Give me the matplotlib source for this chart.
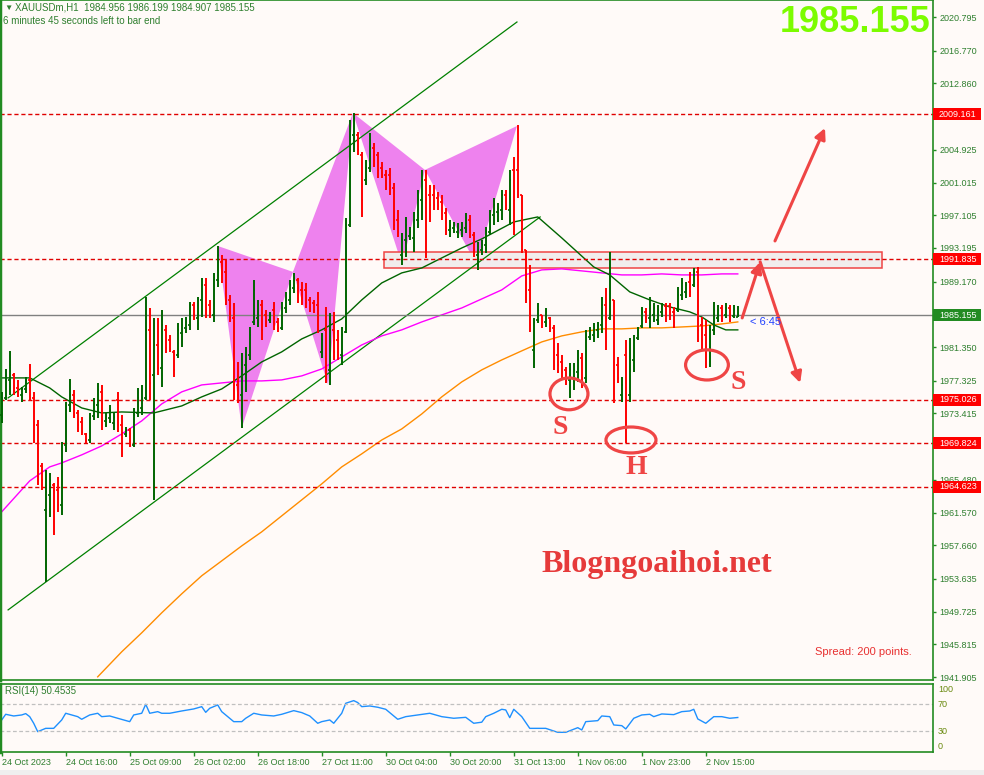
import numpy as np
import matplotlib.pyplot as plt
from matplotlib.patches import Rectangle, Ellipse, Polygon
from matplotlib.transforms import blended_transform_factory

plt.rcParams['font.family'] = ['Liberation Sans', 'DejaVu Sans']

# XAUUSDm H1 bars (oldest first)
opens = [
    1973.23, 1975.27, 1977.42, 1978.02, 1976.46, 1975.63, 1976.34, 1977.42, 1975.27, 1972.04,
    1967.14, 1961.89, 1963.68, 1964.87, 1964.28, 1962.48, 1969.65, 1974.43, 1975.63, 1973.47,
    1972.40, 1970.96, 1970.24, 1973.11, 1974.43, 1975.99, 1972.52, 1972.87, 1972.28, 1975.03,
    1972.04, 1970.96, 1971.44, 1969.65, 1973.47, 1974.07, 1975.27, 1983.40, 1978.02, 1981.60,
    1978.85, 1983.40, 1982.20, 1980.77, 1980.41, 1983.04, 1983.64, 1983.99, 1986.38, 1984.83,
    1986.98, 1988.77, 1986.38, 1985.19, 1989.37, 1991.52, 1990.33, 1986.98, 1984.83, 1976.82,
    1975.63, 1979.21, 1980.41, 1984.35, 1984.83, 1986.38, 1985.19, 1984.59, 1985.79, 1984.35,
    1983.64, 1986.02, 1986.98, 1988.42, 1989.37, 1988.18, 1988.18, 1986.98, 1986.62, 1986.38,
    1980.77, 1983.40, 1978.62, 1983.40, 1982.20, 1980.41, 1983.16, 1995.94, 2006.70, 2006.70,
    2004.31, 2001.32, 2002.75, 2005.14, 2004.31, 2002.75, 2001.92, 2001.92, 2000.36, 1996.54,
    1992.36, 1994.15, 1994.63, 1994.39, 1996.54, 1998.93, 2001.32, 1999.53, 1999.53, 1999.17,
    1998.69, 1997.37, 1995.35, 1995.58, 1995.11, 1995.35, 1995.58, 1996.54, 1994.75, 1992.36,
    1992.96, 1993.55, 1995.11, 1997.14, 1997.49, 1997.73, 1999.53, 1997.73, 2002.52, 2002.52,
    1999.53, 1992.96, 1988.18, 1981.01, 1984.59, 1985.19, 1984.35, 1984.83, 1983.64, 1980.41,
    1979.57, 1978.62, 1977.42, 1977.66, 1978.38, 1980.05, 1977.66, 1982.56, 1982.80, 1983.40,
    1983.99, 1986.38, 1984.83, 1986.98, 1979.21, 1975.63, 1980.41, 1975.63, 1979.81, 1982.44,
    1983.87, 1985.55, 1984.83, 1985.19, 1984.59, 1985.55, 1986.26, 1986.26, 1985.55, 1985.79,
    1987.58, 1987.94, 1989.13, 1988.77, 1990.33, 1983.99, 1982.80, 1981.01, 1983.40, 1984.83,
    1986.02, 1985.19, 1986.02, 1985.07, 1984.956,
]
highs = [
    1975.99, 1978.73, 1980.89, 1978.26, 1977.42, 1976.58, 1977.78, 1979.33, 1975.99, 1972.64,
    1967.50, 1966.67, 1966.31, 1965.11, 1965.83, 1970.01, 1974.79, 1977.54, 1976.22, 1973.83,
    1972.99, 1971.08, 1973.47, 1975.27, 1977.06, 1976.82, 1973.47, 1974.43, 1973.47, 1975.99,
    1973.23, 1971.80, 1971.68, 1974.07, 1976.46, 1976.82, 1987.34, 1986.02, 1984.83, 1984.83,
    1985.79, 1983.99, 1982.80, 1981.01, 1984.23, 1984.83, 1984.95, 1986.74, 1986.74, 1987.34,
    1989.61, 1989.61, 1986.98, 1990.21, 1993.43, 1992.36, 1991.76, 1987.58, 1986.62, 1979.57,
    1980.65, 1981.36, 1983.75, 1989.37, 1986.98, 1986.98, 1985.79, 1985.55, 1986.74, 1984.83,
    1986.74, 1987.94, 1989.37, 1990.21, 1989.61, 1989.13, 1989.01, 1987.34, 1986.98, 1987.94,
    1983.04, 1986.14, 1985.43, 1985.55, 1983.40, 1983.75, 1996.78, 2008.49, 2009.33, 2007.06,
    2004.67, 2003.71, 2006.94, 2005.74, 2004.67, 2003.47, 2002.52, 2002.75, 2000.96, 1997.73,
    1994.99, 1996.90, 1995.70, 1997.49, 2000.12, 2002.52, 2002.52, 2000.72, 2000.72, 1999.89,
    1999.53, 1997.97, 1996.54, 1996.30, 1996.18, 1996.30, 1997.37, 1997.14, 1995.11, 1993.91,
    1994.15, 1995.70, 1997.73, 1999.17, 1998.57, 2000.12, 2000.12, 2002.52, 2004.07, 2007.89,
    1999.53, 1992.96, 1991.16, 1984.83, 1986.62, 1985.19, 1986.02, 1984.95, 1983.99, 1981.84,
    1980.41, 1978.97, 1979.45, 1979.45, 1981.01, 1980.65, 1983.40, 1983.75, 1984.23, 1984.35,
    1987.34, 1988.42, 1992.72, 1986.98, 1980.17, 1977.78, 1982.20, 1982.44, 1982.80, 1983.75,
    1986.14, 1986.02, 1987.34, 1986.62, 1986.38, 1986.62, 1986.62, 1986.62, 1986.14, 1988.53,
    1989.61, 1989.13, 1990.33, 1990.80, 1990.92, 1984.95, 1984.59, 1983.99, 1986.74, 1986.38,
    1986.38, 1986.62, 1986.38, 1986.38, 1986.199,
]
lows = [
    1972.28, 1975.03, 1975.63, 1975.63, 1975.39, 1974.79, 1975.87, 1974.91, 1969.89, 1964.87,
    1964.28, 1953.28, 1961.05, 1958.90, 1961.65, 1961.29, 1968.81, 1973.59, 1972.87, 1971.20,
    1970.84, 1969.89, 1969.89, 1972.64, 1972.87, 1971.44, 1971.80, 1972.28, 1971.44, 1971.20,
    1968.22, 1970.60, 1969.41, 1969.41, 1972.99, 1973.23, 1975.03, 1975.03, 1963.08, 1978.02,
    1976.58, 1980.65, 1980.77, 1977.78, 1980.05, 1981.36, 1983.04, 1983.40, 1984.59, 1983.40,
    1984.95, 1984.83, 1984.83, 1984.35, 1988.53, 1989.01, 1986.38, 1984.35, 1975.03, 1974.67,
    1971.68, 1975.99, 1979.81, 1983.99, 1983.75, 1982.20, 1983.75, 1984.23, 1983.40, 1983.16,
    1983.40, 1985.43, 1986.38, 1987.82, 1986.62, 1986.38, 1986.02, 1985.55, 1985.43, 1983.04,
    1980.05, 1977.06, 1976.82, 1979.81, 1979.81, 1979.21, 1983.04, 1995.70, 2004.67, 2004.31,
    1996.90, 2000.72, 2002.28, 2002.87, 2001.56, 2001.56, 2000.12, 1999.53, 1995.35, 1994.51,
    1991.16, 1992.12, 1994.15, 1992.72, 1995.58, 1996.54, 1992.00, 1996.30, 1997.73, 1997.73,
    1996.54, 1994.75, 1994.51, 1994.99, 1994.39, 1994.51, 1994.99, 1994.39, 1992.12, 1990.57,
    1992.36, 1992.60, 1994.75, 1995.94, 1996.30, 1996.54, 1997.73, 1995.94, 1994.75, 1999.17,
    1992.60, 1986.62, 1983.16, 1978.85, 1984.23, 1983.64, 1983.75, 1983.16, 1978.62, 1978.26,
    1977.66, 1976.82, 1975.27, 1976.22, 1977.18, 1976.46, 1977.06, 1982.20, 1981.96, 1982.44,
    1983.04, 1981.01, 1984.59, 1974.67, 1977.06, 1974.79, 1969.89, 1974.79, 1978.38, 1982.20,
    1983.64, 1984.23, 1983.64, 1984.35, 1983.99, 1984.95, 1984.35, 1984.59, 1983.64, 1985.55,
    1986.98, 1987.22, 1987.34, 1988.53, 1981.96, 1981.01, 1978.85, 1978.97, 1982.80, 1984.35,
    1984.35, 1984.83, 1984.35, 1984.83, 1984.907,
]
closes = [
    1975.27, 1978.02, 1979.21, 1976.46, 1975.87, 1976.34, 1977.42, 1975.27, 1972.04, 1967.26,
    1965.47, 1964.04, 1965.47, 1961.65, 1962.48, 1969.65, 1973.83, 1975.63, 1973.23, 1972.04,
    1971.20, 1970.24, 1972.87, 1974.67, 1976.22, 1972.64, 1973.11, 1973.83, 1972.99, 1972.04,
    1971.08, 1971.44, 1969.65, 1973.23, 1975.27, 1975.27, 1983.40, 1977.06, 1981.60, 1978.85,
    1983.99, 1981.25, 1981.13, 1978.62, 1983.40, 1983.99, 1984.35, 1986.38, 1985.19, 1986.98,
    1988.77, 1985.79, 1985.43, 1989.61, 1992.36, 1990.33, 1986.98, 1984.83, 1976.82, 1975.63,
    1979.21, 1980.41, 1982.80, 1988.18, 1986.38, 1983.40, 1984.35, 1985.19, 1983.99, 1983.64,
    1986.02, 1987.22, 1988.77, 1989.61, 1987.58, 1987.22, 1986.62, 1986.02, 1985.79, 1983.40,
    1982.20, 1978.62, 1983.40, 1980.77, 1980.41, 1982.80, 1995.94, 2006.70, 2008.73, 2004.91,
    1998.93, 2002.75, 2006.10, 2003.71, 2002.52, 2001.92, 2000.36, 2000.12, 1995.94, 1995.11,
    1994.15, 1995.94, 1995.11, 1996.54, 1998.93, 2001.32, 1998.93, 1998.33, 1998.33, 1998.21,
    1997.14, 1995.58, 1995.82, 1995.94, 1995.58, 1995.82, 1996.78, 1994.75, 1992.96, 1992.96,
    1993.55, 1995.11, 1997.14, 1998.33, 1997.97, 1999.53, 1998.33, 2001.32, 1998.93, 1999.53,
    1992.96, 1988.18, 1983.99, 1984.35, 1985.79, 1984.35, 1985.55, 1983.64, 1980.05, 1979.21,
    1978.38, 1977.42, 1978.62, 1978.62, 1979.81, 1977.66, 1982.80, 1983.40, 1983.64, 1983.99,
    1986.38, 1984.59, 1986.98, 1977.42, 1977.66, 1976.82, 1975.03, 1979.81, 1982.20, 1983.40,
    1985.55, 1984.83, 1986.38, 1986.02, 1985.79, 1986.26, 1985.07, 1985.19, 1984.35, 1987.58,
    1989.01, 1988.77, 1987.94, 1990.33, 1983.40, 1982.20, 1981.01, 1983.40, 1985.79, 1985.79,
    1984.83, 1986.02, 1984.83, 1985.79, 1985.155,
]

# moving averages at some bars
ma_green_idx = [0, 7, 12, 15, 20, 25, 30, 38, 45, 50, 55, 60, 65, 70, 75, 80, 85, 90, 95, 100,
                105, 110, 115, 120, 128, 134, 140, 148, 152, 157, 162, 167, 172, 175, 178, 181, 184]
ma_green = [1977.66, 1977.66, 1976.46, 1975.39, 1974.07, 1973.47, 1973.59, 1973.47, 1974.31,
            1975.39, 1976.34, 1977.90, 1979.57, 1980.77, 1982.32, 1983.40, 1984.71, 1986.98,
            1989.01, 1990.21, 1990.80, 1992.00, 1993.19, 1994.27, 1996.30, 1996.90, 1994.39,
            1990.92, 1989.97, 1987.94, 1986.98, 1986.14, 1985.55, 1984.95, 1983.99, 1983.40,
            1983.40]
ma_pink_idx = [0, 7, 12, 15, 20, 25, 30, 35, 40, 45, 50, 55, 60, 65, 70, 75, 80, 85, 90, 95,
               100, 105, 110, 115, 120, 125, 130, 135, 140, 145, 150, 155, 160, 165, 170, 175,
               180, 184]
ma_pink = [1961.65, 1965.35, 1967.02, 1967.50, 1968.46, 1969.53, 1970.96, 1972.52, 1974.55,
           1975.99, 1976.82, 1977.06, 1977.30, 1977.30, 1977.42, 1977.90, 1978.73, 1980.17,
           1981.60, 1982.68, 1983.40, 1984.35, 1985.19, 1986.02, 1987.10, 1988.18, 1989.85,
           1990.57, 1990.69, 1990.45, 1990.21, 1989.97, 1989.97, 1990.09, 1989.97, 1989.97,
           1990.09, 1990.09]
ma_orange_idx = [24, 30, 35, 40, 45, 50, 55, 60, 65, 70, 75, 80, 85, 90, 95, 100, 105, 110,
                 115, 120, 125, 130, 135, 140, 145, 150, 155, 160, 165, 170, 175, 180, 184]
ma_orange = [1941.93, 1944.92, 1947.19, 1949.58, 1951.85, 1954.01, 1955.79, 1957.58, 1959.26,
             1961.17, 1963.08, 1964.99, 1967.02, 1968.58, 1970.24, 1971.56, 1973.35, 1975.39,
             1977.18, 1978.62, 1979.81, 1980.89, 1981.96, 1982.68, 1983.16, 1983.52, 1983.52,
             1983.64, 1983.64, 1983.75, 1983.87, 1984.11, 1984.35]

# RSI(14)
rsi_idx = [0, 1, 3, 5, 6, 7, 8, 9, 11, 13, 15, 16, 19, 20, 22, 24, 25, 27, 29, 32,
           33, 35, 36, 37, 39, 40, 42, 45, 48, 50, 51, 52, 54, 55, 58, 60, 61, 63, 65, 68,
           70, 73, 75, 77, 79, 80, 82, 83, 85, 86, 88, 89, 90, 92, 94, 96, 99, 101, 104, 107,
           110, 113, 116, 118, 120, 121, 123, 125, 126, 127, 128, 130, 132, 134, 136, 139, 141,
           144, 145, 146, 149, 150, 152, 153, 155, 156, 158, 160, 162, 163, 165, 168, 170, 172,
           173, 174, 176, 178, 180, 182, 184]
rsi_vals = [46.8, 55.2, 52.7, 54.2, 56.2, 51.7, 41.9, 29.5, 34.4, 34.4,
            46.8, 56.7, 51.7, 47.8, 54.2, 56.7, 51.7, 52.7, 49.3, 44.3,
            54.2, 56.7, 70.0, 56.7, 59.1, 56.7, 56.7, 60.1, 63.1, 66.5,
            58.1, 64.1, 69.0, 59.1, 44.3, 44.3, 49.3, 56.7, 54.2, 52.7,
            55.2, 60.6, 57.7, 52.7, 41.9, 44.3, 46.8, 41.9, 56.7, 71.5,
            75.4, 72.5, 66.5, 67.5, 65.6, 62.6, 47.8, 51.7, 54.2, 56.7,
            51.7, 49.3, 50.7, 41.9, 43.5, 51.7, 56.7, 62.6, 61.6, 50.2,
            62.6, 51.7, 34.4, 34.4, 34.4, 28.5, 28.5, 35.4, 32.0, 44.3,
            45.8, 52.7, 51.7, 39.4, 38.4, 33.5, 49.3, 54.2, 55.2, 51.7,
            55.7, 54.7, 59.1, 60.1, 62.6, 48.3, 41.9, 51.7, 51.7, 49.3, 50.45]

levels = [2009.161, 1991.835, 1975.026, 1969.824, 1964.623]
bid = 1985.155
# scale labels that are not covered by the level boxes
price_ticks = [2020.795, 2016.770, 2012.860, 2004.925, 2001.015, 1997.105, 1993.195,
               1989.170, 1981.350, 1977.325, 1973.415, 1965.480, 1961.570,
               1957.660, 1953.635, 1949.725, 1945.815, 1941.905]
date_ticks = [0, 16, 32, 48, 64, 80, 96, 112, 128, 144, 160, 176]
date_labels = ['24 Oct 2023', '24 Oct 16:00', '25 Oct 09:00', '26 Oct 02:00', '26 Oct 18:00',
               '27 Oct 11:00', '30 Oct 04:00', '30 Oct 20:00', '31 Oct 13:00', '1 Nov 06:00',
               '1 Nov 23:00', '2 Nov 15:00']

# drawings: channel, butterfly patterns, zone (bar index, price)
chan_up_x, chan_up_y = [1.6, 128.8], [1975.27, 2020.20]
chan_lo_x, chan_lo_y = [1.6, 134.6], [1949.93, 1996.90]
bfly1_x = [54.0, 60.0, 72.8, 81.6, 87.8]
bfly1_y = [1993.43, 1971.68, 1990.33, 1976.82, 2009.33]
bfly2_x = [87.8, 100.1, 105.8, 118.6, 128.8]
bfly2_y = [2009.33, 1991.16, 2002.52, 1991.28, 2007.77]
zone_x, zone_y = [95.6, 220.1], [1990.76, 1992.67]

W, H = 984, 775
BG = '#fffaf8'
FRAME = '#228b22'
TXT = '#2f7f2f'
RED = '#ef4545'

fig = plt.figure(figsize=(W / 100, H / 100), dpi=100, facecolor=BG)
ax = fig.add_axes([0, 1 - 680 / H, 933 / W, 680 / H], facecolor=BG)
rs = fig.add_axes([0, 1 - 751.6 / H, 933 / W, (751.6 - 684) / H], facecolor=BG, sharex=ax)

# butterfly triangles
for px, py in [(bfly1_x, bfly1_y), (bfly2_x, bfly2_y)]:
    for a, b, c in [(0, 1, 2), (2, 3, 4)]:
        ax.add_patch(Polygon([(px[a], py[a]), (px[b], py[b]), (px[c], py[c])],
                             closed=True, fc='#ee82ee', ec='none', zorder=1))

# zone rectangle
ax.add_patch(Rectangle((zone_x[0], zone_y[0]), zone_x[1] - zone_x[0], zone_y[1] - zone_y[0],
                       fc='#f1eded', ec=RED, lw=1.1, zorder=1.5))

# channel lines
ax.plot(chan_up_x, chan_up_y, color='#008000', lw=0.9, zorder=2)
ax.plot(chan_lo_x, chan_lo_y, color='#008000', lw=0.9, zorder=2)

# moving averages
ax.plot(ma_orange_idx, ma_orange, color='#ff8c00', lw=1, zorder=2)
ax.plot(ma_pink_idx, ma_pink, color='#ff00ff', lw=1, zorder=2)
ax.plot(ma_green_idx, ma_green, color='#006400', lw=1, zorder=2)

# horizontal levels
for p in levels:
    ax.axhline(p, color='#e00000', lw=1, ls=(0, (3, 2)), zorder=2)
ax.axhline(bid, color='#808080', lw=1, zorder=2)

# OHLC bars
idx = np.arange(len(closes))
up = np.array(closes) >= np.array(opens)
cols = np.where(up, '#006400', '#ff0000')
ax.vlines(idx, lows, highs, colors=cols, lw=1.4, zorder=4)
ax.hlines(opens, idx - 0.42, idx, colors=cols, lw=1.2, zorder=4)
ax.hlines(closes, idx, idx + 0.42, colors=cols, lw=1.2, zorder=4)

# hand-drawn marks
for (cx, cy, w, h) in [(141.8, 1975.75, 9.5, 3.8), (157.3, 1970.24, 12.5, 3.1),
                       (176.3, 1979.21, 10.7, 3.6)]:
    ax.add_patch(Ellipse((cx, cy), w, h, fc='none', ec=RED, lw=2.3, zorder=6))
for (x, y, s) in [(139.6, 1971.68, 'S'), (158.6, 1966.9, 'H'), (184.1, 1977.06, 'S')]:
    ax.text(x, y, s, color=RED, fontsize=20, fontweight='bold', family='Liberation Serif',
            ha='center', va='center', zorder=6)
arrows = [((185.1, 1984.83), (189.6, 1991.52)),
          ((189.6, 1991.52), (199.6, 1977.06)),
          ((193.3, 1994.03), (205.8, 2007.53))]
for (x0, y0), (x1, y1) in arrows:
    ax.annotate('', xy=(x1, y1), xytext=(x0, y0), zorder=6,
                arrowprops=dict(arrowstyle='-|>', color=RED, lw=2.2, mutation_scale=16,
                                shrinkA=0, shrinkB=0))
ax.text(163.8, 1955.3, 'Blogngoaihoi.net', color='#e63a3a', fontsize=23, fontweight='bold',
        family='Liberation Serif', ha='center', va='center', zorder=6)
ax.text(187.1, 1984.35, '< 6:45', color='#2040ff', fontsize=8, ha='left', va='center', zorder=6)

# right price axis
ax.yaxis.tick_right()
ax.set_yticks(price_ticks)
ax.set_yticklabels([f'{p:.3f}' for p in price_ticks])
ax.tick_params(axis='y', length=2.5, width=1, color=FRAME, labelcolor=TXT, labelsize=6.5, pad=2)
ax.tick_params(axis='x', bottom=False, labelbottom=False)

trans = blended_transform_factory(fig.transFigure, ax.transData)
for p, fc in [(lv, '#ff0000') for lv in levels] + [(bid, '#228b22')]:
    ax.add_patch(Rectangle((933 / W, p - 0.72), 48 / W, 1.44, transform=trans, fc=fc,
                           ec='none', clip_on=False, zorder=7))
    ax.text(939 / W, p, f'{p:.3f}', transform=trans, color='white', fontsize=6.5,
            va='center', ha='left', clip_on=False, zorder=8)

for ss in ax.spines.values():
    ss.set_color(FRAME)
    ss.set_linewidth(1.2)
ax.spines['left'].set_linewidth(2.5)

ax.set_xlim(-0.425, 232.8)
ax.set_ylim(1941.55, 2022.83)

# RSI panel
rs.plot(rsi_idx, rsi_vals, color='#1e90ff', lw=1)
for lv in (70, 30):
    rs.axhline(lv, color='#c0c0c0', lw=0.9, ls=(0, (3, 2)))
rs.set_ylim(0, 100)
rs.set_yticks([])
rs.set_xticks(date_ticks)
rs.set_xticklabels(date_labels, ha='left')
rs.tick_params(axis='x', length=3, width=1, color=FRAME, labelcolor=TXT, labelsize=6.5, pad=1.5)
for ss in rs.spines.values():
    ss.set_color(FRAME)
    ss.set_linewidth(1.2)
rs.spines['left'].set_linewidth(2.5)
trs = blended_transform_factory(fig.transFigure, rs.transData)
for v, lab in [(92, '100'), (70, '70'), (30, '30'), (8, '0')]:
    rs.text(938 / W, v, lab, transform=trs, color='#6a8a10', fontsize=6.5, va='center',
            clip_on=False)
rs.set_xlim(-0.425, 232.8)

# header texts
fig.text(4 / W, 1 - 8 / H, '▼', color=TXT, fontsize=6, va='center')
fig.text(15 / W, 1 - 8 / H, 'XAUUSDm,H1  1984.956 1986.199 1984.907 1985.155', color=TXT,
         fontsize=7, va='center')
fig.text(3 / W, 1 - 21 / H, '6 minutes 45 seconds left to bar end', color=TXT, fontsize=7,
         va='center')
fig.text(930 / W, 1 - 23 / H, '1985.155', color='#7cfc00', fontsize=26, fontweight='bold',
         ha='right', va='center')
fig.text(912 / W, 1 - 652 / H, 'Spread: 200 points.', color='#e83030', fontsize=8,
         ha='right', va='center')
fig.text(5 / W, 1 - 691 / H, 'RSI(14) 50.4535', color=TXT, fontsize=7, va='center')
fig.patches.append(Rectangle((0, 0), 1, 5 / H, transform=fig.transFigure, fc='#efefef',
                             ec='none', zorder=-1))

fig.savefig('out.png', dpi=100, facecolor=BG)
